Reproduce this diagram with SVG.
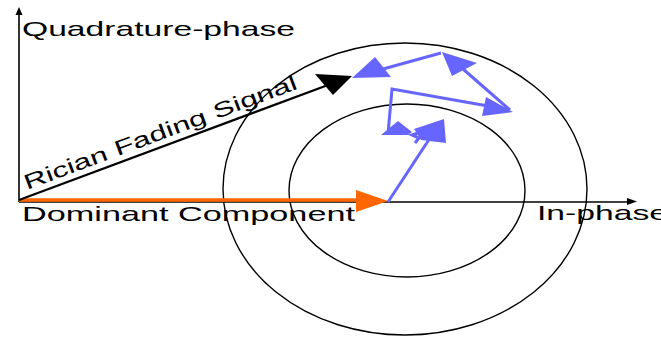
<svg xmlns="http://www.w3.org/2000/svg" width="661" height="339" viewBox="0 0 661 339">
<style>
.lbl{font-family:"Liberation Sans",Arial,sans-serif;font-size:21px;fill:#000}
.ring{fill:none;stroke:#000;stroke-width:1.4}
.axis{stroke:#000;stroke-width:1.6;fill:none}
.blue{stroke:#6666ff;stroke-width:3;fill:none;stroke-linejoin:miter}
.bluehead{fill:#6666ff}
</style>
<rect width="661" height="339" fill="#fff"/>
<g id="rings">
<ellipse class="ring" cx="405" cy="189" rx="182" ry="146"/>
<ellipse class="ring" cx="407" cy="190.5" rx="118" ry="86.5"/>
</g>
<g id="axes">
<line class="axis" x1="19" y1="202" x2="19" y2="12"/>
<polygon points="19,7 15.5,15 22.5,15" fill="#000"/>
<line class="axis" x1="19" y1="202" x2="630" y2="202"/>
<polygon points="637,201.5 627,198 627,205" fill="#000"/>
</g>
<g id="connectors">
<g id="dominant">
<line x1="19" y1="200" x2="360" y2="200" stroke="#ff6600" stroke-width="3.6"/>
<polygon points="388,201 356,190 356,212" fill="#ff6600"/>
</g>
<g id="rician">
<line x1="19" y1="200" x2="328" y2="85" stroke="#000" stroke-width="2.2"/>
<polygon points="352,76 315,74 333,95" fill="#000"/>
</g>
<g id="scatter">
<line class="blue" x1="388" y1="202" x2="432" y2="135"/>
<polygon class="bluehead" points="414,129 444,119 446,143 421,140"/>
<polyline class="blue" points="421,132 412,135 419,138 415,143"/>
<polygon class="bluehead" points="381,135 398,121 412,132 408,135"/>
<polyline class="blue" points="388,134 392,89 488,106"/>
<polygon class="bluehead" points="486,97 513,112 482,116"/>
<line class="blue" x1="510" y1="110" x2="463" y2="69"/>
<polygon class="bluehead" points="442,52 477,63 452,76"/>
<polyline class="blue" points="383,69 441,53"/>
<polygon class="bluehead" points="352,78 375,57 391,77"/>
</g>
</g>
<g id="labels">
<text class="lbl" x="22" y="36" textLength="273" lengthAdjust="spacingAndGlyphs">Quadrature-phase</text>
<text class="lbl" x="22" y="221" textLength="333" lengthAdjust="spacingAndGlyphs">Dominant Component</text>
<text class="lbl" x="537" y="220" textLength="131" lengthAdjust="spacingAndGlyphs">In-phase</text>
<text class="lbl" transform="translate(27,190) rotate(-20.5)" x="0" y="0" textLength="290" lengthAdjust="spacingAndGlyphs">Rician Fading Signal</text>
</g>
</svg>
